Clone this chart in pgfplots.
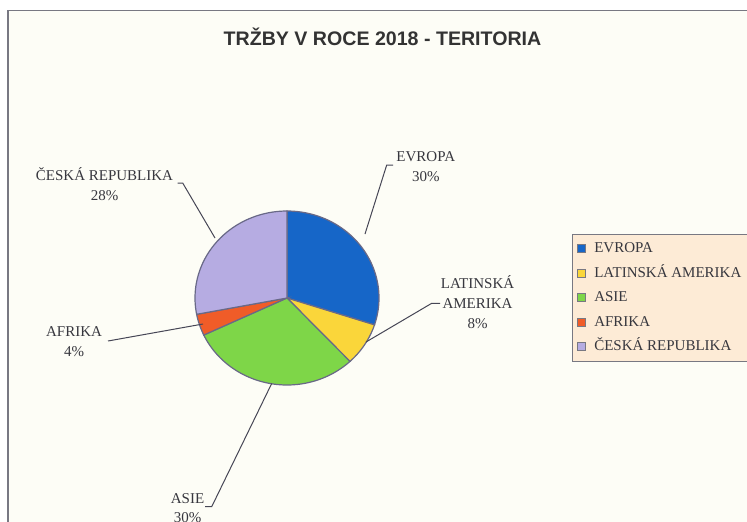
\documentclass[border=0pt]{standalone}
\usepackage{pgfplots}
\pgfplotsset{compat=1.18}
\usepackage{fontspec}
\setmainfont{Liberation Serif}
\newfontfamily\titlefont{Liberation Sans}
\definecolor{cEvropa}{RGB}{22,102,200}
\definecolor{cLatam}{RGB}{250,214,58}
\definecolor{cAsie}{RGB}{126,214,72}
\definecolor{cAfrika}{RGB}{240,92,40}
\definecolor{cCR}{RGB}{182,172,226}
\definecolor{pieedge}{RGB}{105,105,135}
\definecolor{bgc}{RGB}{253,253,246}
\definecolor{framec}{RGB}{120,120,130}
\definecolor{legbg}{RGB}{253,235,214}
\definecolor{txt}{RGB}{55,55,62}
\definecolor{leader}{RGB}{70,70,85}
\newcommand{\lblfont}{\fontsize{15bp}{20bp}\selectfont}
\begin{document}
\begin{tikzpicture}
\begin{axis}[name=ax, scale only axis, width=747bp, height=522bp,
  xmin=0, xmax=747, ymin=0, ymax=522, y dir=reverse, hide axis, clip=false,
  legend style={at={(axis cs:572,234)}, anchor=north west, fill=legbg, draw=framec,
    line width=1bp, font=\lblfont, text=txt, inner xsep=4bp, inner ysep=7bp,
    row sep=10bp, column sep=9bp,
    nodes={inner sep=0pt, text height=11bp, text depth=3.5bp}},
  legend cell align=left,
  legend image code/.code={\draw[#1, draw=framec, line width=0.8bp] (0bp,-4bp) rectangle (8bp,4bp);},
]
% chart area
\draw[draw=framec, line width=1.5bp, fill=bgc] (8,10.5) rectangle (820,620);
% slices: cumulative percentages (EVROPA 30, LATINSKÁ AMERIKA 8, ASIE 30, AFRIKA 4, ČESKÁ REPUBLIKA 28)
\addplot[fill=cEvropa, draw=pieedge, line width=1.2bp, domain=0:30, samples=60, variable=\p]
  ({287+92*cos(90-3.6*\p)}, {298-87*sin(90-3.6*\p)}) -- (287,298) -- cycle;
\addlegendentry{EVROPA}
\addplot[fill=cLatam, draw=pieedge, line width=1.2bp, domain=30:38, samples=20, variable=\p]
  ({287+92*cos(90-3.6*\p)}, {298-87*sin(90-3.6*\p)}) -- (287,298) -- cycle;
\addlegendentry{\makebox[170bp][l]{LATINSKÁ AMERIKA}}
\addplot[fill=cAsie, draw=pieedge, line width=1.2bp, domain=38:68, samples=60, variable=\p]
  ({287+92*cos(90-3.6*\p)}, {298-87*sin(90-3.6*\p)}) -- (287,298) -- cycle;
\addlegendentry{ASIE}
\addplot[fill=cAfrika, draw=pieedge, line width=1.2bp, domain=68:72, samples=12, variable=\p]
  ({287+92*cos(90-3.6*\p)}, {298-87*sin(90-3.6*\p)}) -- (287,298) -- cycle;
\addlegendentry{AFRIKA}
\addplot[fill=cCR, draw=pieedge, line width=1.2bp, domain=72:100, samples=60, variable=\p]
  ({287+92*cos(90-3.6*\p)}, {298-87*sin(90-3.6*\p)}) -- (287,298) -- cycle;
\addlegendentry{ČESKÁ REPUBLIKA}
% leader lines
\addplot[forget plot, draw=leader, line width=1bp, no marks] coordinates {(177.7,183) (182.7,183) (215,238)};
\addplot[forget plot, draw=leader, line width=1bp, no marks] coordinates {(108,341) (203,324)};
\addplot[forget plot, draw=leader, line width=1bp, no marks] coordinates {(393,165) (386.7,165) (365,234)};
\addplot[forget plot, draw=leader, line width=1bp, no marks] coordinates {(440,303.3) (431.7,303.3) (366,342)};
\addplot[forget plot, draw=leader, line width=1bp, no marks] coordinates {(205,506.7) (211.7,506.7) (271.7,383.5)};
% labels
\node[anchor=base, font=\titlefont\bfseries\fontsize{19.6bp}{22bp}\selectfont, text=black!80] at (382.5,45) {TRŽBY V ROCE 2018 - TERITORIA};
\node[anchor=base, font=\lblfont, text=txt] at (104.5,180) {ČESKÁ REPUBLIKA};
\node[anchor=base, font=\lblfont, text=txt] at (104.5,200) {28\%};
\node[anchor=base, font=\lblfont, text=txt] at (74,336.7) {AFRIKA};
\node[anchor=base, font=\lblfont, text=txt] at (74,356.7) {4\%};
\node[anchor=base, font=\lblfont, text=txt] at (425.8,161.7) {EVROPA};
\node[anchor=base, font=\lblfont, text=txt] at (425.8,181.7) {30\%};
\node[anchor=base, font=\lblfont, text=txt] at (477.5,288.3) {LATINSKÁ};
\node[anchor=base, font=\lblfont, text=txt] at (477.5,308.3) {AMERIKA};
\node[anchor=base, font=\lblfont, text=txt] at (477.5,328.3) {8\%};
\node[anchor=base, font=\lblfont, text=txt] at (187.5,503.3) {ASIE};
\node[anchor=base, font=\lblfont, text=txt] at (187.5,522) {30\%};
\end{axis}
\pgfresetboundingbox
\useasboundingbox (ax.south west) rectangle (ax.north east);
\end{tikzpicture}
\end{document}
